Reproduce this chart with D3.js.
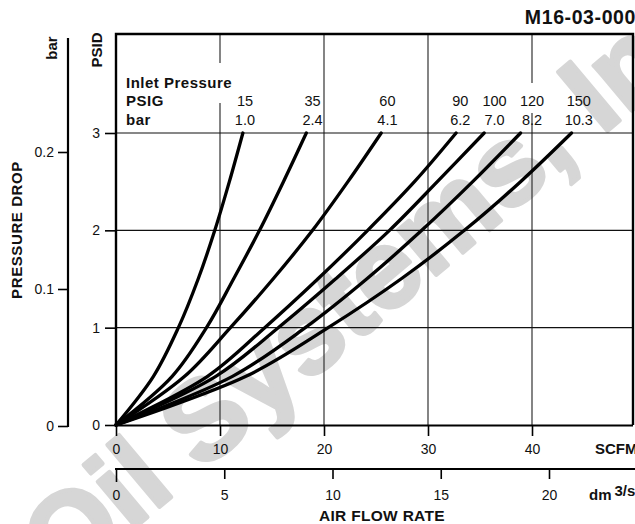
<!DOCTYPE html>
<html><head><meta charset="utf-8">
<script src="https://cdn.jsdelivr.net/npm/d3@7"></script>
<style>
body{margin:0;background:#fff}
svg{display:block}
text{font-family:"Liberation Sans",Arial,Helvetica,sans-serif;fill:#111}
</style>
</head><body>
<svg id="c" width="635" height="524"></svg>
<script>
// ---- data ----
const dpLevels = [0, 0.5, 1, 1.5, 2, 2.5, 3];            // PSID
const flow15  = [0, 3.6, 6.0, 7.9, 9.5, 10.9, 12.2];      // SCFM at each dp
const flow35  = [0, 5.4, 8.7, 11.3, 13.8, 16.1, 18.3];
const flow60  = [0, 6.6, 11.0, 15.1, 18.9, 22.3, 25.5];
const flow90  = [0, 8.8, 14.3, 19.4, 24.2, 28.7, 32.7];
const flow100 = [0, 9.6, 15.6, 21.1, 26.3, 30.9, 35.4];
const flow120 = [0, 11.2, 18.2, 24.1, 29.4, 34.3, 38.9];
const flow150 = [0, 12.5, 20.4, 27.4, 33.5, 38.9, 43.8];
const seriesFlows = [flow15, flow35, flow60, flow90, flow100, flow120, flow150];
const psigLabels = ["15", "35", "60", "90", "100", "120", "150"];
const barLabels  = ["1.0", "2.4", "4.1", "6.2", "7.0", "8.2", "10.3"];
const labelFlow  = [12.4, 18.9, 26.1, 33.1, 36.4, 40.0, 44.5]; // SCFM where each label is centred
const scfmTicks = [0, 10, 20, 30, 40];
const dmTicks   = [0, 5, 10, 15, 20];
const psidTicks = [0, 1, 2, 3];
const barTicks  = [0, 0.1, 0.2];

(function () {
const svg = d3.select("#c");
const FONT = '"Liberation Sans",Arial,Helvetica,sans-serif';
const pL = 116, pR = 633, pT = 34, pB = 425;
const x   = d3.scaleLinear().domain([0, 40]).range([pL, 532]);
const y   = d3.scaleLinear().domain([0, 3]).range([pB, 133]);
const xDm = d3.scaleLinear().domain([0, 20]).range([116, 549]);
const yBar = d3.scaleLinear().domain([0, 0.2]).range([pB + 1, 152]);

// watermark
svg.append("text")
  .attr("transform", "translate(63,588) rotate(-40)")
  .attr("font-size", 112).attr("font-weight", "bold")
  .attr("font-family", FONT)
  .style("fill", "#d6d6d6").style("stroke", "#d6d6d6").style("stroke-width", 4)
  .style("stroke-linejoin", "round")
  .text("Oil Systems, Inc.");

// grid
const grid = svg.append("g");
grid.selectAll("line.v").data(scfmTicks.filter(d => d > 0)).join("line").attr("class", "v")
  .attr("x1", d => x(d)).attr("x2", d => x(d))
  .attr("y1", pT).attr("y2", pB)
  .attr("stroke", "#333").attr("stroke-width", 1.2);
grid.selectAll("line.h").data(psidTicks.filter(d => d > 0)).join("line").attr("class", "h")
  .attr("x1", pL).attr("x2", pR)
  .attr("y1", d => y(d)).attr("y2", d => y(d))
  .attr("stroke", "#111").attr("stroke-width", 1.2);

// white knockouts behind legend heading and "120"
svg.append("rect").attr("x", 121).attr("y", 63).attr("width", 115).attr("height", 40).attr("fill", "#fff");
svg.append("rect").attr("x", x(labelFlow[5]) - 9).attr("y", 83).attr("width", 18).attr("height", 30).attr("fill", "#fff");

// curves
const line = d3.line().x(d => x(d[0])).y(d => y(d[1])).curve(d3.curveCatmullRom.alpha(0.5));
svg.append("g").selectAll("path").data(seriesFlows).join("path")
  .attr("d", f => line(f.map((q, i) => [q, dpLevels[i]])))
  .attr("fill", "none").attr("stroke", "#000").attr("stroke-width", 3.3)
  .attr("stroke-linecap", "round").attr("stroke-linejoin", "round");

// plot frame
svg.append("path")
  .attr("d", `M${pL},${pB}V${pT}H${pR}V${pB}`)
  .attr("fill", "none").attr("stroke", "#000").attr("stroke-width", 2.4);
svg.append("line").attr("x1", pL).attr("x2", pR).attr("y1", pB + 0.5).attr("y2", pB + 0.5)
  .attr("stroke", "#000").attr("stroke-width", 2.2);

function styleAxis(g, size) {
  g.select(".domain").remove();
  g.selectAll(".tick line").attr("stroke", "#000").attr("stroke-width", 1.6);
  g.selectAll(".tick text").attr("font-family", FONT).attr("font-size", size).attr("fill", "#111");
}

// PSID axis
svg.append("g").attr("transform", `translate(${pL},0)`)
  .call(d3.axisLeft(y).tickValues(psidTicks).tickSize(11).tickPadding(5).tickFormat(d3.format("d")))
  .call(g => styleAxis(g, 14));

// bar axis
const barAxis = svg.append("g").attr("transform", "translate(68,0)")
  .call(d3.axisLeft(yBar).tickValues(barTicks).tickSize(10).tickPadding(4).tickFormat(d => d === 0 ? "0" : d3.format(".1f")(d)))
  .call(g => styleAxis(g, 14));
barAxis.append("line").attr("x1", 0).attr("x2", 0).attr("y1", 38).attr("y2", yBar(0) + 1)
  .attr("stroke", "#000").attr("stroke-width", 2.2);

// SCFM axis
svg.append("g").attr("transform", `translate(0,${pB})`)
  .call(d3.axisBottom(x).tickValues(scfmTicks).tickSize(11).tickPadding(8).tickFormat(d3.format("d")))
  .call(g => styleAxis(g, 14));

// dm3/s axis
const dmY = 469;
const dmAxis = svg.append("g").attr("transform", `translate(0,${dmY})`)
  .call(d3.axisBottom(xDm).tickValues(dmTicks).tickSize(10).tickPadding(11).tickFormat(d3.format("d")))
  .call(g => styleAxis(g, 14));
dmAxis.selectAll(".tick").filter(d => d === 0).select("line").attr("y2", 13);
dmAxis.append("line").attr("x1", xDm(0) - 1).attr("x2", 640).attr("y1", 0).attr("y2", 0)
  .attr("stroke", "#000").attr("stroke-width", 2.2);

// axis titles
const bold = (sel) => sel.attr("font-weight", "bold").attr("font-family", FONT);
svg.append("text").attr("transform", "translate(22,230) rotate(-90)").attr("text-anchor", "middle")
  .attr("font-size", 15).attr("letter-spacing", 0.6).call(bold).text("PRESSURE DROP");
svg.append("text").attr("transform", "translate(57,48) rotate(-90)").attr("text-anchor", "middle")
  .attr("font-size", 15).call(bold).text("bar");
svg.append("text").attr("transform", "translate(102,50) rotate(-90)").attr("text-anchor", "middle")
  .attr("font-size", 15).call(bold).text("PSID");
svg.append("text").attr("x", 595).attr("y", 454).attr("font-size", 15).call(bold).text("SCFM");
const dmT = svg.append("text").attr("x", 589).attr("y", 500).attr("font-size", 15).call(bold);
dmT.append("tspan").text("dm");
dmT.append("tspan").attr("dx", 3).attr("dy", -4).text("3/s");
svg.append("text").attr("x", 319).attr("y", 521).attr("font-size", 15.5).attr("letter-spacing", 0.3).call(bold).text("AIR FLOW RATE");
svg.append("text").attr("x", 636).attr("y", 24).attr("text-anchor", "end").attr("font-size", 19.5).attr("letter-spacing", 0.6).call(bold).text("M16-03-000");

// legend
svg.append("text").attr("x", 126).attr("y", 88).attr("font-size", 15).attr("letter-spacing", 0.5).call(bold).text("Inlet Pressure");
svg.append("text").attr("x", 126).attr("y", 106).attr("font-size", 15).attr("letter-spacing", 0.5).call(bold).text("PSIG");
svg.append("text").attr("x", 126).attr("y", 125).attr("font-size", 15).attr("letter-spacing", 0.5).call(bold).text("bar");
const lg = svg.append("g").attr("font-family", FONT).attr("font-size", 14.5).attr("text-anchor", "middle");
lg.selectAll("text.p").data(psigLabels).join("text").attr("class", "p")
  .attr("x", (d, i) => x(labelFlow[i])).attr("y", 106).text(d => d);
lg.selectAll("text.b").data(barLabels).join("text").attr("class", "b")
  .attr("x", (d, i) => x(labelFlow[i])).attr("y", 125).text(d => d);
})();
</script>
</body></html>
